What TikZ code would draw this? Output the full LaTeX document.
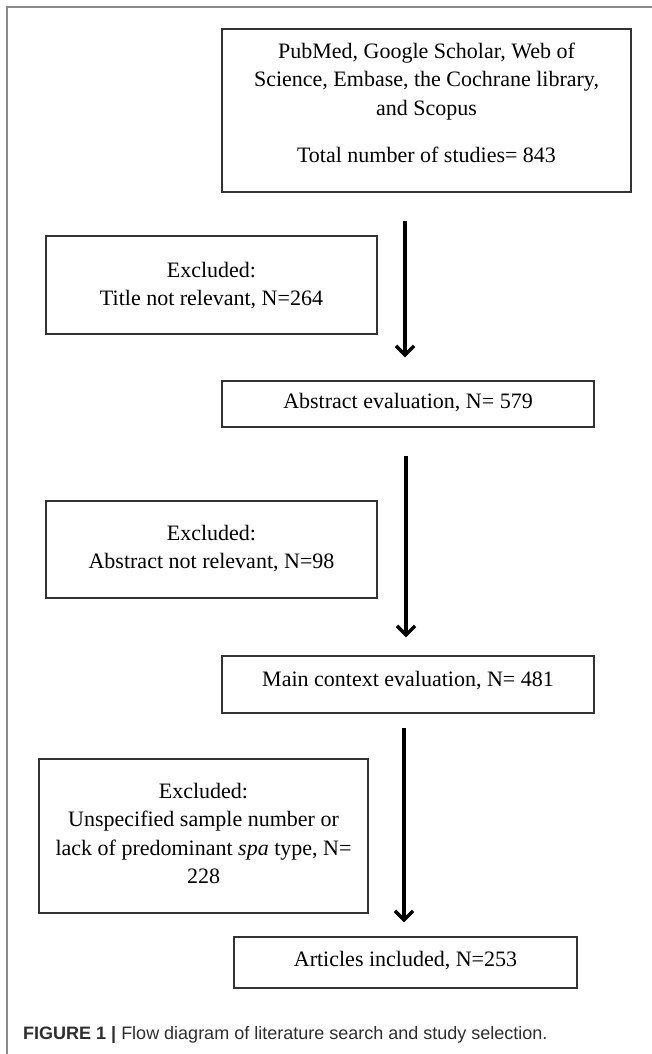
\documentclass[tikz,border=0pt]{standalone}
\usepackage{fontspec}
\setmainfont{Liberation Serif}
\newfontfamily\capfont{Liberation Sans}
\usetikzlibrary{arrows.meta}
\definecolor{boxline}{HTML}{333333}
\definecolor{frameline}{HTML}{8A8A8A}
\definecolor{captext}{HTML}{2E2E2E}
\newcommand\fstop{\rule{0pt}{16pt}}
\newcommand\fsbot[1]{\rule[-#1pt]{0pt}{0pt}}
\begin{document}
\begin{tikzpicture}[x=1pt,y=-1pt,
  flowbox/.style={draw=boxline, line width=1.4pt, align=center, inner sep=0pt,
    font=\fontsize{22}{28.5}\selectfont, text=black},
  flowarrow/.style={line width=3.4pt, -{Straight Barb[length=9pt,width=18pt]}},
]
\useasboundingbox (0,0) rectangle (652,1054);
\fill[white] (0,0) rectangle (652,1054);
\draw[frameline, line width=1.5pt] (652,7) -- (7,7) -- (7,1054);

\node[flowbox, minimum width=409pt, minimum height=163pt] (b1) at (426.5,110.5)
  {\fstop PubMed, Google Scholar, Web of\\ Science, Embase, the Cochrane library,\\ and Scopus\\[18.5pt] Total number of studies= 843\fsbot{17}};
\node[flowbox, minimum width=331pt, minimum height=98pt] (b2) at (211.5,285)
  {\fstop Excluded:\\ Title not relevant, N=264\fsbot{2}};
\node[flowbox, minimum width=372pt, minimum height=46pt] (b3) at (408,404)
  {\fstop Abstract evaluation, N= 579\fsbot{8}};
\node[flowbox, minimum width=331pt, minimum height=97pt] (b4) at (211.5,549.5)
  {\fstop Excluded:\\ Abstract not relevant, N=98\fsbot{6}};
\node[flowbox, minimum width=372pt, minimum height=57pt] (b5) at (408,684.5)
  {\fstop Main context evaluation, N= 481\fsbot{13}};
\node[flowbox, minimum width=329pt, minimum height=154pt] (b6) at (203.5,836)
  {\fstop Excluded:\\ Unspecified sample number or\\ lack of predominant \textit{spa} type, N=\\ 228\fsbot{6}};
\node[flowbox, minimum width=343pt, minimum height=51pt] (b7) at (405.5,962.5)
  {\fstop Articles included, N=253\fsbot{9}};

\draw[flowarrow] ([xshift=-21.5pt,yshift=-28pt]b1.south) -- ([xshift=-3pt,yshift=23pt]b3.north);
\draw[flowarrow] ([xshift=-2pt,yshift=-28pt]b3.south) -- ([xshift=-2pt,yshift=18pt]b5.north);
\draw[flowarrow] ([xshift=-4pt,yshift=-14pt]b5.south) -- ([xshift=-1.5pt,yshift=14pt]b7.north);

\node[anchor=base west, inner sep=0pt, text=captext, font=\capfont\fontsize{18}{22}\selectfont] (cap) at (23,1039.5)
  {\textbf{FIGURE 1 |} Flow diagram of literature search and study selection.};
\end{tikzpicture}
\end{document}
